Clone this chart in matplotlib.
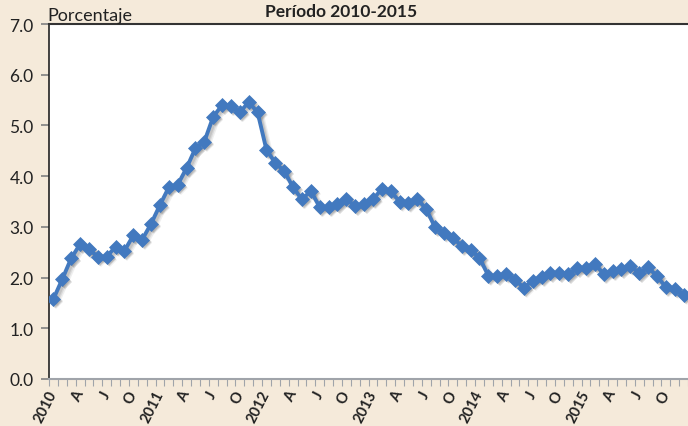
import matplotlib
matplotlib.use("Agg")
import matplotlib.pyplot as plt
import matplotlib.transforms as mtransforms
import numpy as np

# Monthly values 2010-2015 (percent)
values = [
    1.58, 1.97, 2.38, 2.66, 2.56, 2.41, 2.41, 2.61, 2.53, 2.83, 2.75, 3.06,   # 2010
    3.43, 3.78, 3.83, 4.16, 4.55, 4.68, 5.17, 5.40, 5.38, 5.26, 5.46, 5.26,   # 2011
    4.52, 4.26, 4.10, 3.78, 3.54, 3.71, 3.39, 3.39, 3.45, 3.55, 3.41, 3.45,   # 2012
    3.54, 3.75, 3.70, 3.50, 3.48, 3.55, 3.35, 2.99, 2.88, 2.79, 2.62, 2.55,   # 2013
    2.39, 2.04, 2.03, 2.08, 1.96, 1.80, 1.94, 2.01, 2.09, 2.09, 2.07, 2.18,   # 2014
    2.18, 2.27, 2.07, 2.12, 2.16, 2.23, 2.09, 2.20, 2.03, 1.81, 1.78, 1.66,   # 2015
]
years = ["2010", "2011", "2012", "2013", "2014", "2015"]
quarter_labels = ["A", "J", "O"]
ytick_vals = [0.0, 1.0, 2.0, 3.0, 4.0, 5.0, 6.0, 7.0]
title = "Período 2010-2015"
ylabel = "Porcentaje"

W, H = 688, 427
fig = plt.figure(figsize=(W / 100, H / 100), dpi=100)
bg = "#F5EADA"
fig.patch.set_facecolor(bg)

left_px, right_px, top_px, bottom_px = 49, 688, 25, 380
ax = fig.add_axes([left_px / W, 1 - bottom_px / H, (right_px - left_px) / W, (bottom_px - top_px) / H])
ax.set_facecolor("white")

x = np.arange(len(values))
line_color = "#4279BF"
# soft drop shadow
for off, a, lw in [(3.0, 0.10, 5.0), (2.5, 0.14, 3.8), (2.0, 0.18, 2.8)]:
    tr = mtransforms.offset_copy(ax.transData, fig=fig, x=off, y=-off, units="dots")
    ax.plot(x, values, color="#606060", alpha=a, lw=lw, marker="D", ms=7,
            markeredgewidth=0, transform=tr, zorder=2)
ax.plot(x, values, color=line_color, lw=2.8, marker="D", ms=7,
        markeredgecolor=line_color, markerfacecolor=line_color, markeredgewidth=0.5, zorder=3)

ax.set_xlim(-0.5, -0.5 + (right_px - left_px) / 8.93)
ax.set_ylim(0, 7)

# y axis
ax.set_yticks(ytick_vals)
ax.set_yticklabels([f"{v:.1f}" for v in ytick_vals], fontsize=12.5, family="Lato", color="#222222")
ax.tick_params(axis="y", direction="out", length=6, width=1.2, color="#808080", pad=5)

# x axis: minor ticks at month boundaries, labels at quarters
ax.set_xticks(np.arange(-0.5, len(values) + 0.5, 1.0), minor=True)
major_pos = np.arange(0, len(values), 3)
labels = []
for i in major_pos:
    if i % 12 == 0:
        labels.append(years[i // 12])
    else:
        labels.append(quarter_labels[(i % 12) // 3 - 1])
ax.set_xticks(major_pos)
ax.set_xticklabels(labels, rotation=63, ha="right", va="center", rotation_mode="anchor",
                   fontsize=10.5, fontweight="bold", family="Lato", color="#222222")
ax.tick_params(axis="x", which="major", length=0, pad=9)
ax.tick_params(axis="x", which="minor", direction="out", length=5, width=0.8, color="#A0A4AA")

ax.spines["right"].set_visible(False)
ax.spines["left"].set_color("#222222")
ax.spines["left"].set_linewidth(1.2)
ax.spines["top"].set_color("#333333")
ax.spines["top"].set_linewidth(1.5)
ax.spines["bottom"].set_color("#A0A4AA")
ax.spines["bottom"].set_linewidth(1.5)

fig.text(47 / W, 1 - 16 / H, ylabel, fontsize=13, family="Lato", color="#222222", va="center", ha="left")
fig.text(341 / W, 1 - 12 / H, title, fontsize=12.5, family="Lato", fontweight="bold", color="#222222",
         va="center", ha="center")

fig.savefig("out.png", dpi=100, facecolor=bg)
